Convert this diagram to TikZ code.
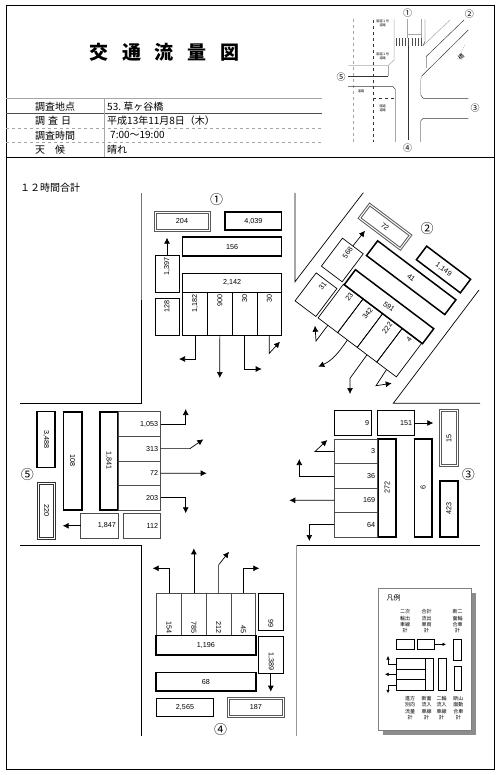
\documentclass[tikz,border=0pt]{standalone}
\usepackage{fontspec}
\setmainfont{Noto Sans CJK JP}
\newfontfamily\numfont{Liberation Sans}
\usetikzlibrary{arrows.meta}

\begin{document}
\begin{tikzpicture}[
  x=1pt, y=-1pt,
  box/.style={draw, line width=.7pt, inner sep=2.5pt, outer sep=0pt,
              font=\fontsize{7.2}{8}\selectfont\numfont},
  tbox/.style={box, line width=1.5pt},
  dbox/.style={box, draw=black!65, line width=1pt, double=white, double distance=1pt},
  rt/.style={minimum width=#1, text width=#1-5pt, align=right},
  wh/.style 2 args={minimum width=#1, minimum height=#2},
  num/.style={font=\fontsize{13}{14}\selectfont},
  knum/.style={font=\fontsize{9}{10}\selectfont, inner sep=0pt},
  info/.style={font=\fontsize{10}{12}\selectfont, anchor=west, inner sep=0pt},
  sbox/.style={draw, line width=.5pt, inner sep=0pt, outer sep=0pt},
  note/.style={font=\fontsize{5}{6.3}\selectfont, align=center, inner sep=0pt},
  tiny/.style={font=\fontsize{3.2}{4}\selectfont, align=center, inner sep=0pt},
  arr/.style={line width=.7pt, -{Latex[length=6pt, width=6pt]}},
  sarr/.style={line width=.5pt, -{Latex[length=3.5pt, width=3.5pt]}},
  rd/.style={line width=.7pt},
  mp/.style={line width=.45pt, draw=black!80},
  gy/.style={line width=.5pt, draw=black!35}
]
\useasboundingbox (0,0) rectangle (500,775);
\draw[line width=.8pt] (6,5) rectangle (494,769.5);

% header
\draw[line width=.7pt] (6,157) -- (494,157);
\draw[gy] (6,98.7) -- (322,98.7);
\draw[line width=.5pt, draw=black!70] (6,113.3) -- (322,113.3);
\draw[gy, dashed] (6,128.3) -- (322,128.3);
\draw[gy, dashed] (6,142.7) -- (322,142.7);
\draw[gy] (104,99) -- (104,157);
\node[font=\fontsize{19}{20}\selectfont\bfseries] (title) at (164.5,52)
  {交\hspace{13.7pt}通\hspace{13.7pt}流\hspace{13.7pt}量\hspace{13.7pt}図};
\node[info] (r1) at (35,106.4) {調査地点};
\node[info] (r2) at (35,121) {調\hspace{3pt}査\hspace{3pt}日};
\node[info] (r3) at (35,135.4) {調査時間};
\node[info] (r4) at (35,150) {天\hspace{10pt}候};
\node[info] (v1) at (107,106.4) {53.\ 草ヶ谷橋};
\node[info] (v2) at (107,121) {平成13年11月8日（木）};
\node[info] (v3) at (110,135.4) {7:00～19:00};
\node[info] (v4) at (107,150) {晴れ};
\node[info] (sum) at (20,187.7) {１２時間合計};

% key map
\draw[gy, dashed] (353.3,19) -- (353.3,141.7);
\draw[mp, line width=.6pt, dashed] (373.3,20) -- (373.3,142);
\draw[mp, line width=.6pt, dashed] (373.3,98.3) -- (394,98.3);
\draw[gy] (394,19.3) -- (394,60) -- (388,65.7) -- (348.3,65.7);
\draw[gy] (388,66) -- (388,76);
\draw[mp] (348.3,76) -- (388,76);
\draw[mp] (348,86.7) -- (393,86.7) -- (395,89);
\draw[gy] (395,89) -- (395,141.7);
\draw[gy] (407.3,19.3) -- (407.3,37.7) (421.7,19.3) -- (421.7,37.7) (407.3,34) -- (421.7,34);
\draw[mp] (408.3,46) -- (408.3,140);
\draw[line width=8pt, draw=black!70, dash pattern=on .9pt off 2.2pt] (396,41.8) -- (421.7,41.8);
\draw[mp] (425,19.3) -- (425,41.7) -- (422.7,46);
\draw[gy] (422.7,46) -- (450,20);
\draw[mp] (426,56.7) -- (464,20);
\draw[gy] (426,56.7) -- (426,68);
\draw[mp] (468.3,30) -- (421.7,76);
\draw[gy] (421.7,76) -- (420.7,80) -- (420.7,95);
\draw[mp] (420.7,95) -- (423.3,98.3) -- (468.3,98.3);
\draw[mp] (468.3,118.3) -- (423.3,118.3) -- (420.7,120.7);
\draw[gy] (420.7,120.7) -- (420.7,141.7);
\node[tiny] (m1) at (382.7,23) {国道１号\\道路};
\node[tiny] (m2) at (382.7,56) {国道１号\\道路};
\node[tiny] (m3) at (361,91.7) {道路};
\node[tiny] (m4) at (382.7,108) {国道\\道路};
\node[font=\fontsize{6}{7}\selectfont, rotate=40, inner sep=0pt] (m5) at (461,57) {橋};
\draw[gy, dash pattern=on 1pt off 1.5pt] (465,45) -- (457,60);
\node[knum] (k1) at (407.7,13.3) {①};
\node[knum] (k2) at (469.3,14) {②};
\node[knum] (k3) at (475,108.3) {③};
\node[knum] (k4) at (407.7,147.7) {④};
\node[knum] (k5) at (341,76.7) {⑤};

% roads
\draw[rd, draw=black!55] (141,193) -- (141,300);
\draw[rd] (141,300) -- (141,403.3) -- (20,403.3);
\draw[rd] (20,545) -- (141.7,545) -- (141.7,736);
\draw[rd] (295,193) -- (295,281.7) -- (363.3,192.7);
\draw[rd] (479,290) -- (393.3,403.3) -- (480,403.3);
\draw[rd] (480,545) -- (296,545);
\draw[rd, draw=black!40] (296,545) -- (296,736);

% north arm
\node[num] (no1) at (216.7,200) {①};
\node[dbox, wh={54pt}{17.3pt}] (a204) at (182,221.4) {204};
\node[tbox, wh={56.7pt}{18pt}] (a4039) at (253.3,221) {4,039};
\node[tbox, wh={99pt}{18.7pt}] (a156) at (232.2,246.6) {156};
\node[tbox, wh={99pt}{19pt}] (a2142) at (232.2,282.8) {2,142};
\node[box, rt=37.3pt, minimum height=24pt, rotate=90] (a1397) at (167,273.7) {1,397};
\node[box, rt=36.7pt, minimum height=24pt, rotate=90] (a128) at (167,316.7) {128};
\node[box, rt=42.7pt, minimum height=24.75pt, rotate=90] (a1) at (195.1,313.6) {1,182};
\node[box, rt=42.7pt, minimum height=24.75pt, rotate=90, anchor=north] (a2) at (a1.south) {900};
\node[box, rt=42.7pt, minimum height=24.75pt, rotate=90, anchor=north] (a3) at (a2.south) {30};
\node[box, rt=42.7pt, minimum height=24.75pt, rotate=90, anchor=north] (a4) at (a3.south) {30};
\coordinate (a1t) at (179,359);
\coordinate (a2t) at (219.8,378);
\coordinate (a3t) at (261.7,369);
\coordinate (a4m) at (269.3,353.3);
\coordinate (a4t) at (280,341.7);
\coordinate (a1397t) at (167,237.7);
\draw[arr] (a1.west) |- (a1t);
\draw[arr] (a2.west) -- (a2t);
\draw[arr] (a3.west) |- (a3t);
\draw[arr] (a4.west) -- (a4m) -- (a4t);
\draw[arr] (a1397.east) -- (a1397t);

% north-east arm
\node[num] (no2) at (427,229) {②};
\node[dbox, wh={51pt}{17pt}, rotate=-37] (b72) at (385,226.7) {72};
\node[tbox, wh={55pt}{17pt}, rotate=-37] (b1149) at (443.5,269.5) {1,149};
\node[tbox, wh={98pt}{18.5pt}, rotate=-37] (b41) at (411.2,277.7) {41};
\node[tbox, wh={98pt}{18.7pt}, rotate=-37] (b591) at (389,306.7) {591};
\node[box, rt=35pt, minimum height=26pt, rotate=53] (b568) at (342.3,260) {568};
\node[box, rt=35pt, minimum height=26pt, rotate=53] (b31) at (316,294.7) {31};
\node[box, rt=42pt, minimum height=24.5pt, rotate=53] (b1) at (340.5,308.5) {23};
\node[box, rt=42pt, minimum height=24.5pt, rotate=53, anchor=north] (b2) at (b1.south) {342};
\node[box, rt=42pt, minimum height=24.5pt, rotate=53, anchor=north] (b3) at (b2.south) {222};
\node[box, rt=42pt, minimum height=24.5pt, rotate=53, anchor=north] (b4) at (b3.south) {4};
\coordinate (b1m) at (316,341);
\coordinate (b1t) at (315,325.7);
\coordinate (b2t) at (318.3,366.7);
\coordinate (b3m) at (350,378.3);
\coordinate (b3t) at (350,394);
\coordinate (b4m) at (376,385.7);
\coordinate (b4t) at (391.7,383.3);
\coordinate (b568t) at (365,230.7);
\draw[arr] (b1.west) -- (b1m) -- (b1t);
\draw[arr] (b2.west) to[out=235, in=24] (b2t);
\draw[arr] (b3.west) -- (b3m) -- (b3t);
\draw[arr] (b4.west) -- (b4m) -- (b4t);
\draw[arr] (b568.east) -- (b568t);

% east arm
\node[num] (no3) at (468.3,475) {③};
\node[box, rt=37.4pt, minimum height=25.4pt] (d9) at (353,423) {9};
\node[box, rt=37.4pt, minimum height=25.4pt] (d151) at (396,423) {151};
\node[dbox, wh={55.4pt}{17.5pt}, rotate=90] (d15) at (448.8,438) {15};
\node[tbox, wh={55.7pt}{18pt}, rotate=90] (d423) at (448.8,508.9) {423};
\node[tbox, wh={97.7pt}{17.5pt}, rotate=90] (d6) at (423.2,487.9) {6};
\node[tbox, wh={97.7pt}{18pt}, rotate=90] (d272) at (387.2,487.9) {272};
\node[box, rt=43.4pt, minimum height=24.4pt, draw=black!70] (d1) at (356,451.5) {3};
\node[box, rt=43.4pt, minimum height=24.4pt, draw=black!70, anchor=north] (d2) at (d1.south) {36};
\node[box, rt=43.4pt, minimum height=24.4pt, draw=black!70, anchor=north] (d3) at (d2.south) {169};
\node[box, rt=43.4pt, minimum height=24.4pt, draw=black!70, anchor=north] (d4) at (d3.south) {64};
\coordinate (d1m) at (315,451.5);
\coordinate (d1t) at (327.3,440);
\coordinate (d2t) at (299.3,459);
\coordinate (d3t) at (289.3,500.3);
\coordinate (d4t) at (309.3,541);
\coordinate (d151t) at (433.3,423);
\draw[arr] (d1.west) -- (d1m) -- (d1t);
\draw[arr] (d2.west) -| (d2t);
\draw[arr] (d3.west) -- (d3t);
\draw[arr] (d4.west) -| (d4t);
\draw[arr] (d151.east) -- (d151t);

% west arm
\node[num] (no5) at (27.3,475) {⑤};
\node[tbox, wh={55.6pt}{18pt}, rotate=-90] (e3488) at (46.2,439.5) {3,488};
\node[dbox, draw=black!80, wh={55pt}{16.5pt}, rotate=-90] (e220) at (46.7,510.8) {220};
\node[tbox, wh={98.3pt}{18.5pt}, rotate=-90] (e108) at (72.5,460.9) {108};
\node[tbox, wh={98.3pt}{18pt}, rotate=-90] (e1841) at (108.8,460.9) {1,841};
\node[box, rt=42.4pt, minimum height=24.6pt, draw=black!70] (e1) at (139.5,424) {1,053};
\node[box, rt=42.4pt, minimum height=24.6pt, draw=black!70, anchor=north] (e2) at (e1.south) {313};
\node[box, rt=42.4pt, minimum height=24.6pt, draw=black!70, anchor=north] (e3) at (e2.south) {72};
\node[box, rt=42.4pt, minimum height=24.6pt, draw=black!70, anchor=north] (e4) at (e3.south) {203};
\node[box, rt=37.6pt, minimum height=25pt, draw=black!70] (e1847) at (99.5,525.8) {1,847};
\node[box, rt=37.4pt, minimum height=25pt, draw=black!70] (e112) at (142,525.8) {112};
\coordinate (e1t) at (185.7,409);
\coordinate (e2m) at (190,448.6);
\coordinate (e2t) at (203.3,439.3);
\coordinate (e3t) at (206.7,473.2);
\coordinate (e4t) at (185.7,513.3);
\coordinate (e1847t) at (62.7,525.8);
\draw[arr] (e1.east) -| (e1t);
\draw[arr] (e2.east) -- (e2m) -- (e2t);
\draw[arr] (e3.east) -- (e3t);
\draw[arr] (e4.east) -| (e4t);
\draw[arr] (e1847.west) -- (e1847t);

% south arm
\node[num] (no4) at (220.7,730) {④};
\node[box, rt=42.4pt, minimum height=24.75pt, draw=black!70, rotate=-90] (c1) at (169.1,614.5) {154};
\node[box, rt=42.4pt, minimum height=24.75pt, draw=black!70, rotate=-90, anchor=south] (c2) at (c1.north) {785};
\node[box, rt=42.4pt, minimum height=24.75pt, draw=black!70, rotate=-90, anchor=south] (c3) at (c2.north) {212};
\node[box, rt=42.4pt, minimum height=24.75pt, draw=black!70, rotate=-90, anchor=south] (c4) at (c3.north) {45};
\node[tbox, wh={99.7pt}{19.3pt}] (c1196) at (205.9,645.3) {1,196};
\node[tbox, wh={99.7pt}{18.7pt}] (c68) at (205.9,681.6) {68};
\node[tbox, wh={56.6pt}{18.4pt}] (c2565) at (185,707.5) {2,565};
\node[dbox, wh={55pt}{18.4pt}] (c187) at (255.8,707.5) {187};
\node[box, rt=36.7pt, minimum height=25pt, rotate=-90] (c99) at (270.8,611.6) {99};
\node[box, rt=37.3pt, minimum height=25pt, rotate=-90] (c1389) at (270.8,654.6) {1,389};
\coordinate (c1t) at (152.7,568.3);
\coordinate (c2t) at (193.85,548.3);
\coordinate (c3m) at (218.6,565);
\coordinate (c3t) at (229,551.7);
\coordinate (c4t) at (259.3,568.3);
\coordinate (c1389t) at (270.8,691.7);
\draw[arr] (c1.west) |- (c1t);
\draw[arr] (c2.west) -- (c2t);
\draw[arr] (c3.west) -- (c3m) -- (c3t);
\draw[arr] (c4.west) |- (c4t);
\draw[arr] (c1389.east) -- (c1389t);

% legend
\fill[black!45] (383,593) rectangle (476,735);
\filldraw[fill=white, draw=black!50, line width=.5pt] (378.3,588) rectangle (471.7,730.7);
\node[font=\fontsize{7}{8}\selectfont, inner sep=0pt] (ltitle) at (393.5,598) {凡例};
\node[note] (lt1) at (405,621.5) {二次\\輸出\\車線\\計};
\node[note] (lt2) at (426.7,621.5) {合計\\流出\\車両\\計};
\node[note] (lt3) at (457.7,621.5) {断二\\面輪\\合車\\計};
\node[note] (lb1) at (410,708) {進方\\別向\\流量\\計};
\node[note] (lb2) at (426.7,708) {断面\\流入\\車線\\計};
\node[note] (lb3) at (441.7,708) {二輪\\流入\\車線\\計};
\node[note] (lb4) at (458.3,708) {断山\\面動\\合車\\計};
\node[sbox, wh={18pt}{10pt}] (l1) at (405,644.3) {};
\node[sbox, wh={17.4pt}{10pt}] (l2) at (426,644.3) {};
\node[sbox, line width=1pt, wh={7.7pt}{21.4pt}] (l3) at (457.8,650) {};
\node[sbox, wh={7.7pt}{24pt}] (l4) at (457.8,678.7) {};
\node[sbox, wh={7.7pt}{32.4pt}] (l5) at (442.1,674.5) {};
\node[sbox, wh={8pt}{32.4pt}] (l6) at (429.3,674.5) {};
\node[sbox, wh={29.3pt}{11pt}] (l7) at (410.6,663.8) {};
\node[sbox, wh={29.3pt}{10pt}, anchor=north] (l8) at (l7.south) {};
\node[sbox, wh={29.3pt}{11.4pt}, anchor=north] (l9) at (l8.south) {};
\coordinate (l2t) at (446,644.3);
\coordinate (l7t) at (388,656);
\coordinate (l8t) at (385,674.3);
\coordinate (l9t) at (388,693.3);
\draw[sarr] (l2.east) -- (l2t);
\draw[sarr] (l7.west) -| (l7t);
\draw[sarr] (l8.west) -- (l8t);
\draw[sarr] (l9.west) -| (l9t);
\end{tikzpicture}
\end{document}
